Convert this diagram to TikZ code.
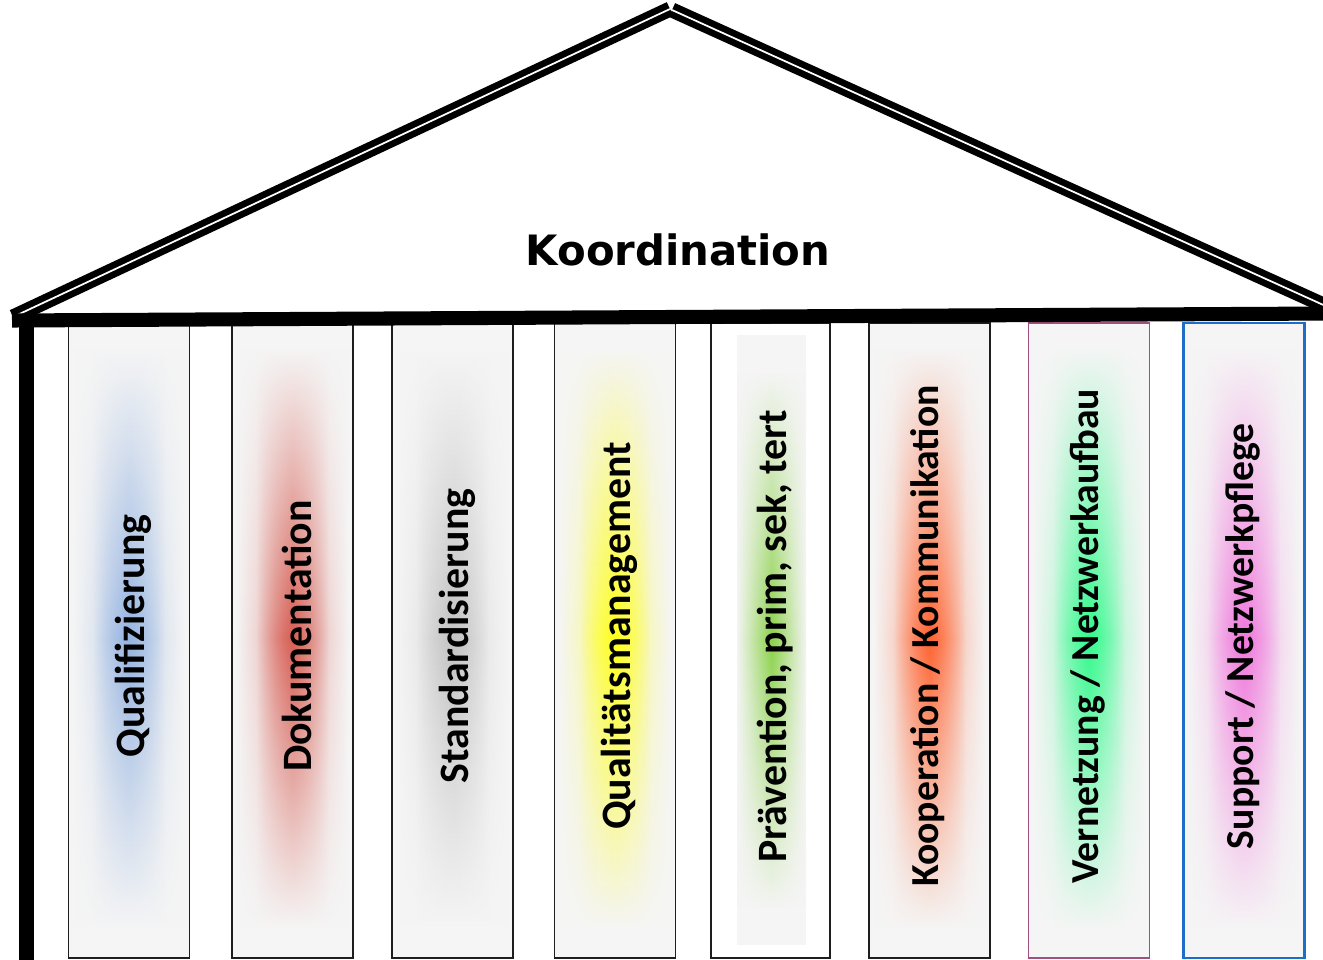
\documentclass[tikz,border=0pt]{standalone}
\usepackage{fontspec}
\newfontfamily\pillarfont{Carlito}
\newfontfamily\rooffont{DejaVu Sans}
\usetikzlibrary{calc,fadings}

\definecolor{pgray}{RGB}{245,245,245}
\definecolor{pdark}{RGB}{30,30,30}
\definecolor{pmauve}{RGB}{160,80,125}
\definecolor{pblue}{RGB}{30,110,200}
\definecolor{gblue}{RGB}{150,180,225}
\definecolor{gred}{RGB}{215,95,85}
\definecolor{ggray}{RGB}{195,195,195}
\definecolor{gyellow}{RGB}{255,255,30}
\definecolor{ggreen}{RGB}{140,210,75}
\definecolor{gorange}{RGB}{255,100,50}
\definecolor{gmint}{RGB}{50,250,140}
\definecolor{gpink}{RGB}{240,120,220}

\tikzfading[name=sidefade, left color=transparent!100, right color=transparent!100,
	middle color=transparent!0]

\tikzset{
	pillar/.style={rectangle, draw=#1, line width=0.9pt, fill=pgray,
		minimum width=2.42cm, minimum height=12.7cm, inner sep=0pt},
	pillar/.default=pdark,
	pillartext/.style={xshift=2.6pt, yshift=2.5pt, rotate=90, inner sep=0pt,
		font=\pillarfont\bfseries\fontsize{23.8}{26}\selectfont},
	pillarsmall/.style={xshift=-0.8pt, yshift=2.5pt, rotate=90, inner sep=0pt,
		font=\pillarfont\bfseries\fontsize{22.6}{25}\selectfont},
	glow/.style={top color=pgray, bottom color=pgray, middle color=#1,
		path fading=sidefade},
	roofline/.style={line width=3.8pt, double=white, double distance=1pt},
}

\begin{document}
\begin{tikzpicture}[x=0.02cm, y=-0.02cm]
	\useasboundingbox (0,0) rectangle (1323,960);

	% Dach
	\coordinate (eaveL) at (13,317);
	\coordinate (apexL) at (670,9);
	\coordinate (apexR) at (672,10);
	\coordinate (eaveR) at (1330,308);
	\draw[roofline] (eaveL) -- (apexL);
	\draw[roofline] (apexR) -- (eaveR);
	\node[font=\rooffont\bfseries\fontsize{23.8}{26}\selectfont, anchor=base]
		(koord) at (678,265) {Koordination};

	% Saeulen
	\node[pillar] (p1) at (129,640.5) {};
	\shade[glow=gblue, opacity=0.6] ($(p1.north)+(-56,25)$) rectangle ($(p1.south)+(56,-30)$);
	\shade[glow=gblue] ($(p1.north)+(-36,25)$) rectangle ($(p1.south)+(36,-30)$);
	\node[pillartext] (t1) at (p1) {Qualifizierung};

	\node[pillar] (p2) at (292.5,640.5) {};
	\shade[glow=gred, opacity=0.6] ($(p2.north)+(-56,25)$) rectangle ($(p2.south)+(56,-30)$);
	\shade[glow=gred] ($(p2.north)+(-36,25)$) rectangle ($(p2.south)+(36,-30)$);
	\node[pillartext] (t2) at (p2) {Dokumentation};

	\node[pillar] (p3) at (452.5,640.5) {};
	\shade[glow=ggray, opacity=0.6] ($(p3.north)+(-56,25)$) rectangle ($(p3.south)+(56,-30)$);
	\shade[glow=ggray] ($(p3.north)+(-36,25)$) rectangle ($(p3.south)+(36,-30)$);
	\node[pillartext] (t3) at (p3) {Standardisierung};

	\node[pillar] (p4) at (615,640.5) {};
	\shade[glow=gyellow, opacity=0.6] ($(p4.north)+(-56,25)$) rectangle ($(p4.south)+(56,-30)$);
	\shade[glow=gyellow] ($(p4.north)+(-36,25)$) rectangle ($(p4.south)+(36,-30)$);
	\node[pillartext] (t4) at (p4) {Qualitätsmanagement};

	\node[pillar, fill=white, minimum width=2.38cm] (p5) at (770.5,640.5) {};
	\node[rectangle, fill=pgray, inner sep=0pt, minimum width=1.38cm,
		minimum height=12.2cm] (p5in) at (771.5,640) {};
	\shade[glow=ggreen] ($(p5in.north west)+(0,35)$) rectangle ($(p5in.south east)+(0,-35)$);
	\node[pillartext] (t5) at (p5) {Prävention, prim, sek, tert};

	\node[pillar] (p6) at (929.5,640.5) {};
	\shade[glow=gorange, opacity=0.6] ($(p6.north)+(-56,25)$) rectangle ($(p6.south)+(56,-30)$);
	\shade[glow=gorange] ($(p6.north)+(-36,25)$) rectangle ($(p6.south)+(36,-30)$);
	\node[pillarsmall] (t6) at (p6) {Kooperation / Kommunikation};

	\node[pillar=pmauve, line width=1.1pt] (p7) at (1089,640.5) {};
	\shade[glow=gmint, opacity=0.6] ($(p7.north)+(-56,25)$) rectangle ($(p7.south)+(56,-30)$);
	\shade[glow=gmint] ($(p7.north)+(-36,25)$) rectangle ($(p7.south)+(36,-30)$);
	\node[pillarsmall] (t7) at (p7) {Vernetzung / Netzwerkaufbau};

	\node[pillar=pblue, line width=1.3pt] (p8) at (1244,640.5) {};
	\shade[glow=gpink, opacity=0.6] ($(p8.north)+(-56,25)$) rectangle ($(p8.south)+(56,-30)$);
	\shade[glow=gpink] ($(p8.north)+(-36,25)$) rectangle ($(p8.south)+(36,-30)$);
	\node[pillarsmall] (t8) at (p8) {Support / Netzwerkpflege};

	% Balken und Pfosten
	\coordinate (beamL) at (12,320.5);
	\coordinate (beamR) at (1330,313.5);
	\coordinate (postT) at (26.5,318);
	\coordinate (postB) at (26.5,965);
	\draw[line width=8pt] (beamL) -- (beamR);
	\draw[line width=8.5pt] (postT) -- (postB);
\end{tikzpicture}
\end{document}
